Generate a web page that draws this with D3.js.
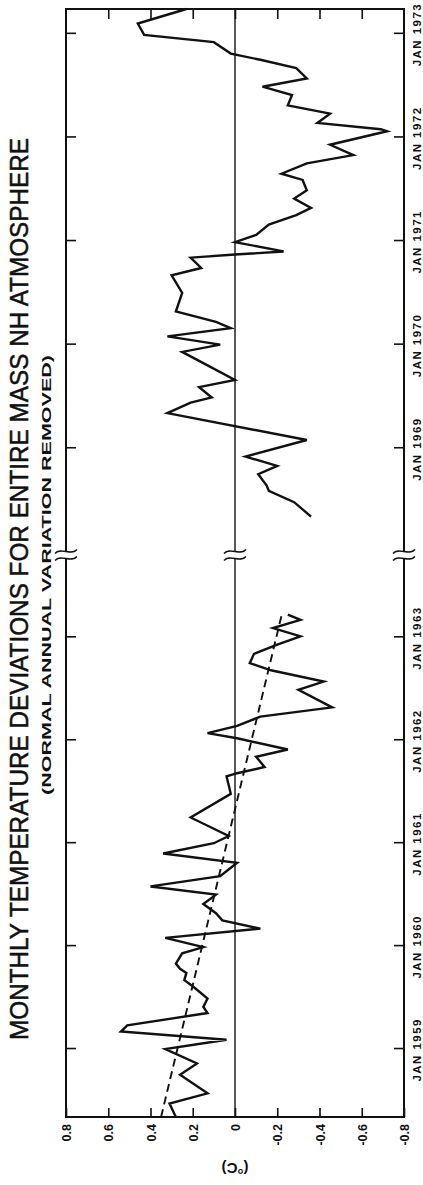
<!DOCTYPE html>
<html>
<head>
<meta charset="utf-8">
<script src="https://cdn.jsdelivr.net/npm/d3@7"></script>
<style>
  html, body { margin: 0; padding: 0; background: #fff; }
  svg { display: block; }
  text { fill: #111; }
</style>
</head>
<body>
<svg id="chart" width="423" height="1185"></svg>
<script>
// ---------------- DATA ----------------
// Temperature deviation values (°C) and their dates (decimal years)
const seg1Time = [1958.33, 1958.46, 1958.56, 1958.74, 1958.85, 1958.99, 1959.08, 1959.16, 1959.22, 1959.34,
  1959.40, 1959.48, 1959.60, 1959.66, 1959.73, 1959.77, 1959.82, 1959.92, 1959.98, 1960.07,
  1960.16, 1960.24, 1960.31, 1960.40, 1960.49, 1960.57, 1960.67, 1960.80, 1960.89, 1960.99,
  1961.06, 1961.24, 1961.47, 1961.64, 1961.67, 1961.73, 1961.83, 1961.90, 1962.01, 1962.06,
  1962.13, 1962.22, 1962.31, 1962.48, 1962.56, 1962.67, 1962.74, 1962.83, 1962.92, 1963.00,
  1963.08, 1963.16, 1963.21];
const seg1Value = [0.28, 0.31, 0.13, 0.26, 0.18, 0.33, 0.04, 0.54, 0.51, 0.13,
  0.15, 0.13, 0.20, 0.24, 0.23, 0.26, 0.28, 0.25, 0.15, 0.33,
  -0.12, 0.06, 0.09, 0.15, 0.09, 0.40, 0.07, -0.01, 0.34, 0.10,
  0.03, 0.21, 0.02, 0.04, -0.01, -0.14, -0.10, -0.25, -0.01, 0.13,
  -0.01, -0.12, -0.46, -0.30, -0.42, -0.17, -0.07, -0.09, -0.20, -0.31,
  -0.18, -0.31, -0.25];

const seg2Time = [1968.33, 1968.47, 1968.58, 1968.63, 1968.74, 1968.82, 1968.91, 1969.07, 1969.33, 1969.43,
  1969.48, 1969.58, 1969.65, 1969.92, 1969.99, 1970.07, 1970.15, 1970.21, 1970.31, 1970.49,
  1970.66, 1970.73, 1970.83, 1970.86, 1970.89, 1970.98, 1971.05, 1971.15, 1971.24, 1971.31,
  1971.40, 1971.48, 1971.58, 1971.64, 1971.74, 1971.82, 1971.92, 1972.05, 1972.07, 1972.13,
  1972.22, 1972.30, 1972.40, 1972.48, 1972.56, 1972.66, 1972.74, 1972.80, 1972.91, 1972.98,
  1973.09, 1973.23];
const seg2Value = [-0.36, -0.28, -0.16, -0.15, -0.11, -0.20, -0.05, -0.34, 0.32, 0.21,
  0.11, 0.17, 0.00, 0.25, 0.07, 0.32, 0.02, 0.09, 0.28, 0.25,
  0.30, 0.16, 0.21, 0.00, -0.23, 0.00, -0.10, -0.16, -0.29, -0.36,
  -0.28, -0.34, -0.32, -0.22, -0.34, -0.56, -0.45, -0.72, -0.69, -0.39,
  -0.45, -0.25, -0.27, -0.13, -0.34, -0.29, -0.12, 0.02, 0.10, 0.43,
  0.46, 0.23];

// Linear trend (dashed) for the first period
const trendTime = [1958.33, 1963.20];
const trendValue = [0.35, -0.22];

// Axis ticks
const valueTicks = [0.8, 0.6, 0.4, 0.2, 0, -0.2, -0.4, -0.6, -0.8];
const valueTickLabels = ["0.8", "0.6", "0.4", "0.2", "0", "-0.2", "-0.4", "-0.6", "-0.8"];
const yearTicks = [1959, 1960, 1961, 1962, 1963, 1969, 1970, 1971, 1972, 1973];
const yearTickLabels = ["JAN 1959", "JAN 1960", "JAN 1961", "JAN 1962", "JAN 1963",
  "JAN 1969", "JAN 1970", "JAN 1971", "JAN 1972", "JAN 1973"];

// Broken time axis: domain start, break start, break end, domain end
const timeDomain = [1958.33, 1963.79, 1967.96, 1973.23];

const titleText = "MONTHLY TEMPERATURE DEVIATIONS FOR ENTIRE MASS NH ATMOSPHERE";
const subtitleText = "(NORMAL ANNUAL VARIATION REMOVED)";
const unitText = "(°C)";

// ---------------- LAYOUT ----------------
const L = 66, R = 404, T = 9, B = 1117;
const svg = d3.select("#chart");

const x = d3.scaleLinear().domain([0.8, -0.8]).range([L, R]);
const y = d3.scaleLinear().domain(timeDomain).range([B, 555, 555, T]);
const yBreak = y(timeDomain[1]);

const FONT = "'Liberation Sans', Arial, sans-serif";

// zero line
svg.append("line")
  .attr("x1", x(0)).attr("x2", x(0)).attr("y1", T).attr("y2", B)
  .attr("stroke", "#111").attr("stroke-width", 1.4);

// trend (dashed)
const trend = trendTime.map((t, i) => ({ t, v: trendValue[i] }));
const line = d3.line().x(d => x(d.v)).y(d => y(d.t));
svg.append("path").datum(trend)
  .attr("d", line)
  .attr("fill", "none").attr("stroke", "#111").attr("stroke-width", 1.9)
  .attr("stroke-dasharray", "8,5");

// data lines
const seg1 = seg1Time.map((t, i) => ({ t, v: seg1Value[i] }));
const seg2 = seg2Time.map((t, i) => ({ t, v: seg2Value[i] }));
[seg1, seg2].forEach(seg => {
  svg.append("path").datum(seg)
    .attr("d", line)
    .attr("fill", "none").attr("stroke", "#111").attr("stroke-width", 2.4)
    .attr("stroke-linejoin", "miter").attr("stroke-miterlimit", 4);
});

// axes (ticks pointing inward)
const gBottom = svg.append("g").attr("transform", `translate(0,${B})`)
  .call(d3.axisBottom(x).tickValues(valueTicks)
    .tickFormat((d, i) => valueTickLabels[i])
    .tickSizeInner(-9).tickSizeOuter(0).tickPadding(0));
const gTop = svg.append("g").attr("transform", `translate(0,${T})`)
  .call(d3.axisTop(x).tickValues(valueTicks.slice(1, -1)).tickFormat("")
    .tickSizeInner(-10).tickSizeOuter(0));
const gRight = svg.append("g").attr("transform", `translate(${R},0)`)
  .call(d3.axisRight(y).tickValues(yearTicks)
    .tickFormat((d, i) => yearTickLabels[i])
    .tickSizeInner(-10).tickSizeOuter(0).tickPadding(0));
const gLeft = svg.append("g").attr("transform", `translate(${L},0)`)
  .call(d3.axisLeft(y).tickValues(yearTicks).tickFormat("")
    .tickSizeInner(-10).tickSizeOuter(0));

[gBottom, gTop, gRight, gLeft].forEach(g => {
  g.select(".domain").remove();
  g.selectAll(".tick line").attr("stroke", "#111").attr("stroke-width", 1.6);
});

gBottom.selectAll(".tick text")
  .attr("x", 0).attr("y", 0).attr("dy", "0.36em")
  .attr("transform", "translate(0,7) rotate(-90)")
  .attr("text-anchor", "end")
  .attr("font-family", FONT).attr("font-weight", "bold").attr("font-size", 12.5)
  .attr("fill", "#111");

gRight.selectAll(".tick text")
  .attr("x", 0).attr("y", 0).attr("dy", 0)
  .attr("transform", "translate(17,2) rotate(-90)")
  .attr("text-anchor", "middle")
  .attr("font-family", FONT).attr("font-weight", "bold").attr("font-size", 11.5)
  .attr("textLength", 62).attr("lengthAdjust", "spacing")
  .attr("fill", "#111");

// frame
svg.append("rect")
  .attr("x", L).attr("y", T).attr("width", R - L).attr("height", B - T)
  .attr("fill", "none").attr("stroke", "#111").attr("stroke-width", 2);

// axis breaks
[L, x(0), R].forEach(cx => {
  svg.append("rect").attr("x", cx - 4).attr("y", yBreak - 3.5)
    .attr("width", 8).attr("height", 7).attr("fill", "#fff");
  [-3.5, 3.5].forEach(off => {
    const yy = yBreak + off;
    svg.append("path")
      .attr("d", `M${cx - 11},${yy + 2} C${cx - 5},${yy - 5} ${cx + 5},${yy + 5} ${cx + 11},${yy - 2}`)
      .attr("fill", "none").attr("stroke", "#111").attr("stroke-width", 1.5);
  });
});

// title & subtitle (rotated)
svg.append("text")
  .attr("transform", `translate(28,${(138 + 1040) / 2}) rotate(-90)`)
  .attr("text-anchor", "middle")
  .attr("font-family", FONT).attr("font-size", 25)
  .attr("stroke", "#111").attr("stroke-width", 0.5)
  .attr("textLength", 1040 - 138).attr("lengthAdjust", "spacingAndGlyphs")
  .text(titleText);

svg.append("text")
  .attr("transform", `translate(51,${(355 + 795) / 2}) rotate(-90)`)
  .attr("text-anchor", "middle")
  .attr("font-family", FONT).attr("font-weight", "bold").attr("font-size", 13.5)
  .attr("textLength", 795 - 355).attr("lengthAdjust", "spacingAndGlyphs")
  .text(subtitleText);

// unit label (upside down, as in the original)
svg.append("text")
  .attr("transform", `translate(${x(0)},1168) rotate(180)`)
  .attr("text-anchor", "middle").attr("dy", "0.35em")
  .attr("font-family", FONT).attr("font-weight", "bold").attr("font-size", 15)
  .text(unitText);
</script>
</body>
</html>
